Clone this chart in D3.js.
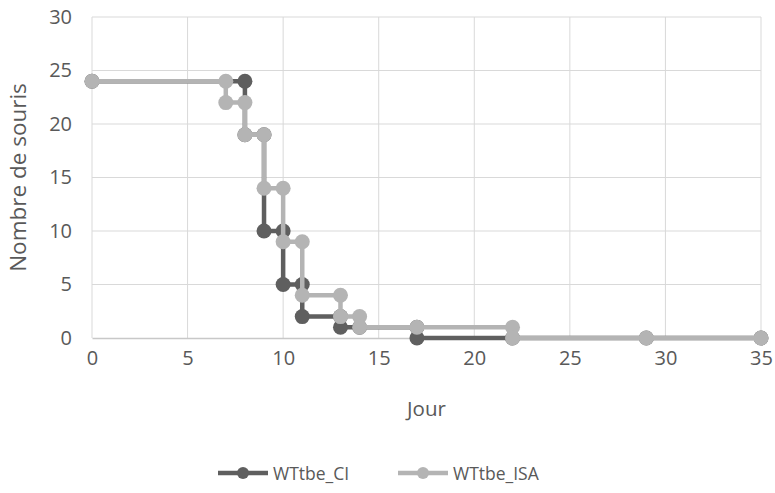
<!DOCTYPE html>
<html><head><meta charset="utf-8">
<script src="https://cdn.jsdelivr.net/npm/d3@7"></script>
<style>body{margin:0;background:#fff}svg{display:block}</style>
</head><body>
<script>
const seriesNames = ["WTtbe_CI", "WTtbe_ISA"];
const ciDays  = [0, 8, 8, 9, 9, 10, 10, 11, 11, 13, 13, 14, 17, 17, 22, 29, 35];
const ciMice  = [24, 24, 19, 19, 10, 10, 5, 5, 2, 2, 1, 1, 1, 0, 0, 0, 0];
const isaDays = [0, 7, 7, 8, 8, 9, 9, 10, 10, 11, 11, 13, 13, 14, 14, 17, 22, 22, 29, 35];
const isaMice = [24, 24, 22, 22, 19, 19, 14, 14, 9, 9, 4, 4, 2, 2, 1, 1, 1, 0, 0, 0];
const xTicks = [0, 5, 10, 15, 20, 25, 30, 35];
const yTicks = [0, 5, 10, 15, 20, 25, 30];
const colors = ["#5f5f5f", "#b4b4b4"];

const W = 775, H = 493;
const m = {l: 92, r: 14, t: 17, b: 155};
const svg = d3.select("body").append("svg").attr("width", W).attr("height", H);
const x = d3.scaleLinear().domain([0, 35]).range([m.l, W - m.r]);
const y = d3.scaleLinear().domain([0, 30]).range([H - m.b, m.t]);
const font = "'Open Sans', sans-serif";

// gridlines
svg.append("g").selectAll("line").data(yTicks.filter(d => d > 0)).join("line")
  .attr("x1", x(0)).attr("x2", x(35)).attr("y1", d => y(d)).attr("y2", d => y(d))
  .attr("stroke", "#d9d9d9").attr("stroke-width", 1);
svg.append("g").selectAll("line").data(xTicks).join("line")
  .attr("x1", d => x(d)).attr("x2", d => x(d)).attr("y1", y(0)).attr("y2", y(30))
  .attr("stroke", "#d9d9d9").attr("stroke-width", 1);

// axes
const xAxis = svg.append("g").attr("transform", `translate(0,${y(0)})`)
  .call(d3.axisBottom(x).tickValues(xTicks).tickSize(0).tickPadding(13));
xAxis.select(".domain").attr("stroke", "#c8c8c8").attr("stroke-width", 1.5);
xAxis.selectAll("text").attr("font-family", font).attr("font-size", 20).attr("fill", "#595959");
const yAxis = svg.append("g").attr("transform", `translate(${x(0)},0)`)
  .call(d3.axisLeft(y).tickValues(yTicks).tickSize(0).tickPadding(20));
yAxis.select(".domain").remove();
yAxis.selectAll("text").attr("font-family", font).attr("font-size", 20).attr("fill", "#595959");

svg.append("text").attr("x", (x(0) + x(35)) / 2).attr("y", 416).attr("text-anchor", "middle")
  .attr("font-family", font).attr("font-size", 20.5).attr("fill", "#595959").text("Jour");
svg.append("text").attr("transform", `translate(26,${(y(0) + y(30)) / 2}) rotate(-90)`)
  .attr("text-anchor", "middle").attr("font-family", font).attr("font-size", 22.5)
  .attr("fill", "#595959").text("Nombre de souris");

const series = [
  ciDays.map((d, i) => [d, ciMice[i]]),
  isaDays.map((d, i) => [d, isaMice[i]])
];
const line = d3.line().x(d => x(d[0])).y(d => y(d[1]));
series.forEach((s, k) => {
  const g = svg.append("g");
  g.append("path").datum(s).attr("d", line).attr("fill", "none")
    .attr("stroke", colors[k]).attr("stroke-width", 4.5).attr("stroke-linejoin", "round");
  g.selectAll("circle").data(s).join("circle")
    .attr("cx", d => x(d[0])).attr("cy", d => y(d[1])).attr("r", 7.5).attr("fill", colors[k]);
});

// legend
const legX = [218, 398];
seriesNames.forEach((n, k) => {
  const g = svg.append("g").attr("transform", `translate(${legX[k]},473)`);
  g.append("line").attr("x1", 0).attr("x2", 50).attr("stroke", colors[k]).attr("stroke-width", 4.5);
  g.append("circle").attr("cx", 25).attr("r", 6).attr("fill", colors[k]);
  g.append("text").attr("x", 55).attr("y", 7).attr("font-family", font).attr("font-size", 17.5)
    .attr("fill", "#595959").text(n);
});
</script>
</body></html>
